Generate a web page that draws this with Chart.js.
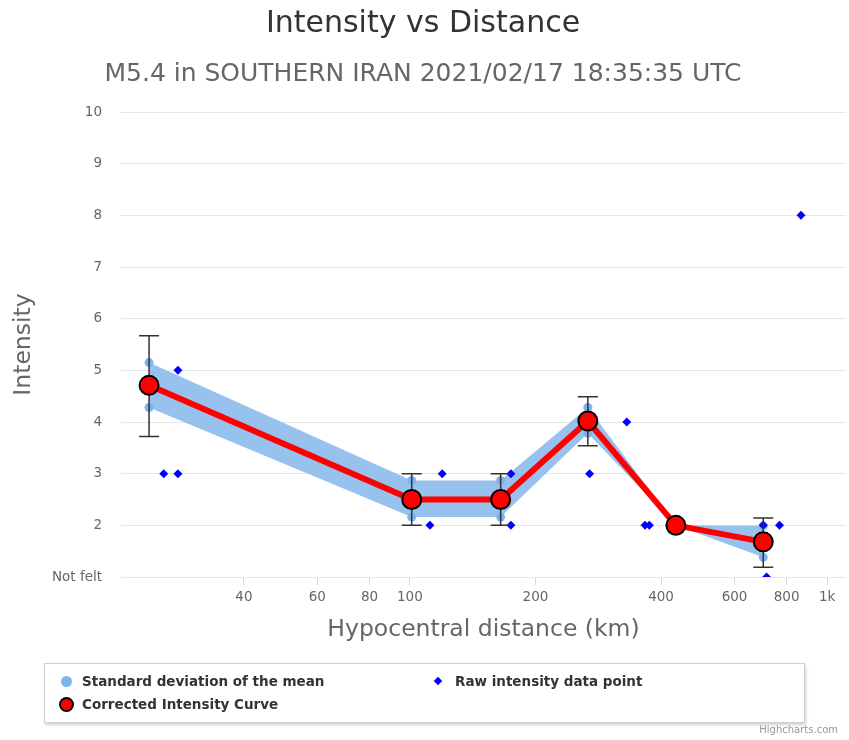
<!DOCTYPE html>
<html>
<head>
<meta charset="utf-8">
<title>Intensity vs Distance</title>
<script src="https://cdn.jsdelivr.net/npm/chart.js@4.4.1/dist/chart.umd.min.js"></script>
<style>
  html, body { margin: 0; padding: 0; background: #fff; }
  #wrap { position: relative; width: 849px; height: 740px; font-family: 'DejaVu Sans', sans-serif; }
  #grafico { position: absolute; left: 0; top: 0; }
  .legenda {
    position: absolute; left: 44px; top: 663px; width: 759px; height: 58px;
    border: 1px solid #d0d0d0; background: #fff;
    box-shadow: 1px 2px 3px rgba(0,0,0,0.18);
  }
  .item { position: absolute; font-weight: bold; font-size: 13.5px; color: #333; line-height: 16px; white-space: nowrap; }
  .simbolo { position: absolute; }
  .credito { position: absolute; right: 11px; top: 724px; font-size: 10px; color: #999; }
</style>
</head>
<body>
<div id="wrap">
  <canvas id="grafico" width="849" height="740"></canvas>
  <div class="legenda">
    <span class="simbolo" style="left:16px;top:12px;width:11px;height:11px;border-radius:50%;background:#7cb5ec;"></span>
    <span class="item" style="left:37px;top:9px;">Standard deviation of the mean</span>
    <span class="simbolo" style="left:390px;top:14px;width:6px;height:6px;background:#0000ff;transform:rotate(45deg);"></span>
    <span class="item" style="left:410px;top:9px;">Raw intensity data point</span>
    <span class="simbolo" style="left:14px;top:33px;width:11px;height:11px;border-radius:50%;background:#ff0000;border:2px solid #000;"></span>
    <span class="item" style="left:37px;top:32px;">Corrected Intensity Curve</span>
  </div>
  <div class="credito">Highcharts.com</div>
</div>
<script>
// === DADOS ===
// curva corrigida: distância (km) e intensidade
const curvaX = [23.7, 101, 165, 267, 434, 703];
const curvaY = [4.71, 2.5, 2.5, 4.02, 2.0, 1.68];

// desvio padrão da média (faixa azul)
const desvioAlto = [5.15, 2.87, 2.87, 4.28, 2.0, 1.99];
const desvioBaixo = [4.28, 2.16, 2.16, 3.78, 2.0, 1.38];

// barras de erro (null = sem barra)
const erroAlto = [5.67, 3.0, 3.0, 4.49, null, 2.14];
const erroBaixo = [3.72, 2.0, 2.0, 3.54, null, 1.19];

// pontos brutos de intensidade
const brutoX = [25.7, 27.8, 27.8, 111.7, 119.5, 174.6, 174.6, 269.6, 331, 366, 375, 703, 769, 716, 866];
const brutoY = [3, 3, 5, 2, 3, 3, 2, 3, 4, 2, 2, 2, 2, 1, 8];

// ticks do eixo x
const ticksX = [40, 60, 80, 100, 200, 400, 600, 800, 1000];

const fonte = "'DejaVu Sans', sans-serif";
const pares = (xs, ys) => xs.map((x, i) => ({ x: x, y: ys[i] }));

// === PLUGIN: BARRAS DE ERRO ===
const barrasErro = {
  id: "barrasErro",
  beforeDatasetDraw(chart, args) {
    if (args.index !== 0) return;
    const { ctx, scales } = chart;
    ctx.save();
    ctx.strokeStyle = "#333";
    ctx.lineWidth = 1.5;
    curvaX.forEach((d, i) => {
      if (erroAlto[i] == null) return;
      const px = scales.x.getPixelForValue(d);
      const topo = scales.y.getPixelForValue(erroAlto[i]);
      const base = scales.y.getPixelForValue(erroBaixo[i]);
      ctx.beginPath();
      ctx.moveTo(px, topo); ctx.lineTo(px, base);
      ctx.moveTo(px - 10, topo); ctx.lineTo(px + 10, topo);
      ctx.moveTo(px - 10, base); ctx.lineTo(px + 10, base);
      ctx.stroke();
    });
    ctx.restore();
  }
};

const ctx = document.getElementById("grafico").getContext("2d");
new Chart(ctx, {
  type: "line",
  data: {
    datasets: [
      {
        label: "Corrected Intensity Curve",
        data: pares(curvaX, curvaY),
        borderColor: "#ff0000",
        borderWidth: 6,
        pointRadius: 9.5,
        pointBackgroundColor: "#ff0000",
        pointBorderColor: "#000",
        pointBorderWidth: 2,
        order: 0
      },
      {
        label: "Raw intensity data point",
        data: pares(brutoX, brutoY),
        showLine: false,
        pointStyle: "rectRot",
        pointRadius: 4.5,
        pointBackgroundColor: "#0000ff",
        pointBorderWidth: 0,
        order: 1
      },
      {
        label: "Standard deviation of the mean",
        data: pares(curvaX, desvioAlto),
        borderWidth: 0,
        borderColor: "rgba(0,0,0,0)",
        pointRadius: 4.5,
        pointBackgroundColor: "#7cb5ec",
        pointBorderWidth: 0,
        fill: false,
        order: 2
      },
      {
        label: "desvio baixo",
        data: pares(curvaX, desvioBaixo),
        borderWidth: 0,
        borderColor: "rgba(0,0,0,0)",
        backgroundColor: "#97c2ee",
        pointRadius: 4.5,
        pointBackgroundColor: "#7cb5ec",
        pointBorderWidth: 0,
        fill: "-1",
        order: 3
      }
    ]
  },
  options: {
    responsive: false,
    animation: false,
    layout: { autoPadding: false, padding: { top: 6, left: 0, right: 3, bottom: 93 } },
    plugins: {
      legend: { display: false },
      tooltip: { enabled: false },
      title: {
        display: true,
        text: "Intensity vs Distance",
        color: "#333333",
        font: { family: fonte, size: 30, weight: "normal", lineHeight: 1.2 },
        padding: { top: 0, bottom: 0 }
      },
      subtitle: {
        display: true,
        text: "M5.4 in SOUTHERN IRAN 2021/02/17 18:35:35 UTC",
        color: "#666666",
        font: { family: fonte, size: 25, weight: "normal", lineHeight: 1.2 },
        padding: { top: 17.5, bottom: 22.5 }
      }
    },
    scales: {
      x: {
        type: "logarithmic",
        min: 20.3,
        max: 1110,
        afterBuildTicks: (axis) => { axis.ticks = ticksX.map((v) => ({ value: v })); },
        afterFit: (axis) => {
          axis.height = 70;
          axis.paddingLeft = 0;
          axis.paddingRight = 0;
        },
        ticks: {
          autoSkip: false,
          maxRotation: 0,
          padding: 4,
          color: "#666",
          font: { family: fonte, size: 13.5 },
          callback: (v) => (v === 1000 ? "1k" : String(v))
        },
        grid: { drawOnChartArea: false, drawTicks: true, tickLength: 8, color: "#ccd6eb" },
        border: { display: false },
        title: {
          display: true,
          text: "Hypocentral distance (km)",
          color: "#666",
          font: { family: fonte, size: 23.5 },
          padding: { top: 0, bottom: 3 }
        }
      },
      y: {
        min: 1,
        max: 10,
        afterFit: (axis) => { axis.width = 121; },
        ticks: {
          stepSize: 1,
          padding: 19,
          color: "#666",
          font: { family: fonte, size: 13.5 },
          callback: (v) => (v === 1 ? "Not felt" : String(v))
        },
        grid: { color: "#e6e6e6", drawTicks: false },
        border: { display: false },
        title: {
          display: true,
          text: "Intensity",
          color: "#666",
          font: { family: fonte, size: 23.5 },
          padding: { top: 10, bottom: 0 }
        }
      }
    }
  },
  plugins: [barrasErro]
});
</script>
</body>
</html>
